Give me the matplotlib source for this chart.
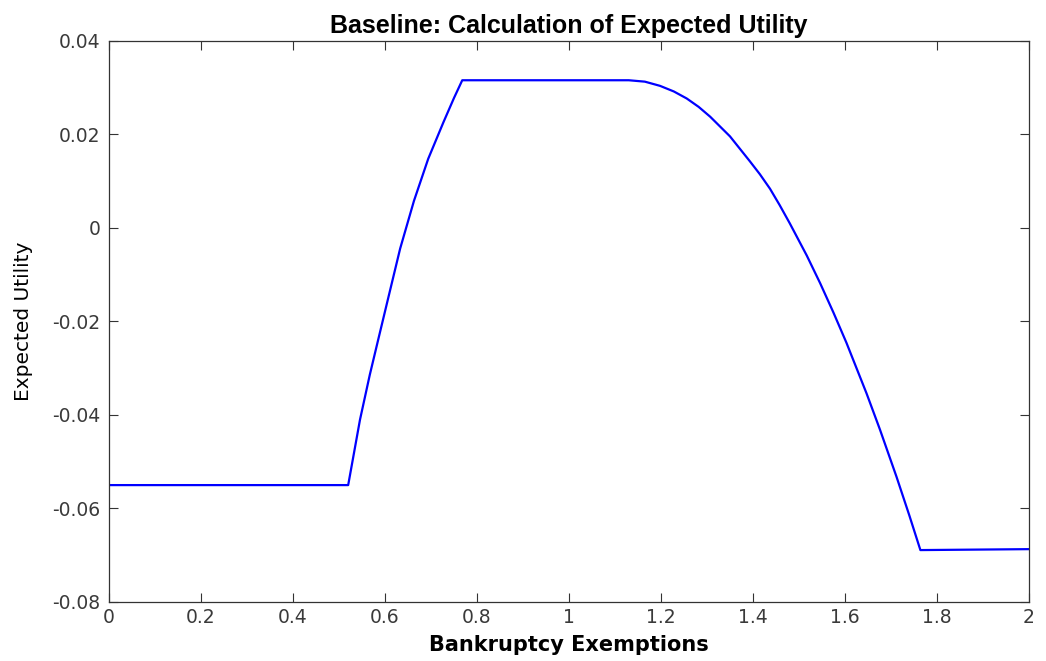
import matplotlib
matplotlib.use("Agg")
import matplotlib.pyplot as plt

exemptions = [0.0, 0.520, 0.5457, 0.567, 0.585, 0.607, 0.633, 0.663, 0.694, 0.727, 0.750, 0.768,
              1.000, 1.130, 1.165, 1.198, 1.228, 1.256, 1.282, 1.307, 1.350, 1.393, 1.415, 1.437,
              1.458, 1.480, 1.517, 1.546, 1.575, 1.603, 1.647, 1.676, 1.712, 1.740, 1.764, 2.0]
utility = [-0.0550, -0.0550, -0.0410, -0.0314, -0.0240, -0.0150, -0.0044, 0.0058, 0.0148, 0.0226, 0.0278, 0.0316,
           0.0316, 0.0316, 0.0313, 0.0304, 0.0292, 0.0277, 0.0259, 0.0238, 0.0196, 0.0143, 0.0115, 0.0084,
           0.0049, 0.0010, -0.0059, -0.0118, -0.0181, -0.0245, -0.0354, -0.0431, -0.0532, -0.0615, -0.0689, -0.0687]

xticks = [0, 0.2, 0.4, 0.6, 0.8, 1, 1.2, 1.4, 1.6, 1.8, 2]
xticklabels = ["0", "0.2", "0.4", "0.6", "0.8", "1", "1.2", "1.4", "1.6", "1.8", "2"]
yticks = [-0.08, -0.06, -0.04, -0.02, 0, 0.02, 0.04]
yticklabels = ["-0.08", "-0.06", "-0.04", "-0.02", "0", "0.02", "0.04"]

plt.rcParams['font.family'] = ['DejaVu Sans']

fig = plt.figure(figsize=(10.46, 6.61), dpi=100)
ax = fig.add_axes([0.1042, 0.0893, 0.9837 - 0.1042, 0.938 - 0.0893])
ax.plot(exemptions, utility, color='#0000ff', linewidth=1.6)
ax.set_xlim(0, 2)
ax.set_ylim(-0.08, 0.04)
ax.set_xticks(xticks)
ax.set_xticklabels(xticklabels)
ax.set_yticks(yticks)
ax.set_yticklabels(yticklabels)
ax.tick_params(direction='in', length=6.5, width=0.8, top=True, right=True,
               labelsize=13.5, labelcolor='#3a3a3a', color='#333333')
ax.tick_params(axis='x', pad=4)
ax.tick_params(axis='y', pad=6)
for s in ax.spines.values():
    s.set_linewidth(0.9)
    s.set_color('#333333')
ax.set_title("Baseline: Calculation of Expected Utility", fontsize=18, fontweight='bold',
             family=['Liberation Sans', 'DejaVu Sans'], pad=6)
ax.set_xlabel("Bankruptcy Exemptions", fontsize=15, fontweight='bold', labelpad=6)
ax.set_ylabel("Expected Utility", fontsize=14.5, labelpad=14)
fig.savefig("out.png", dpi=100)
